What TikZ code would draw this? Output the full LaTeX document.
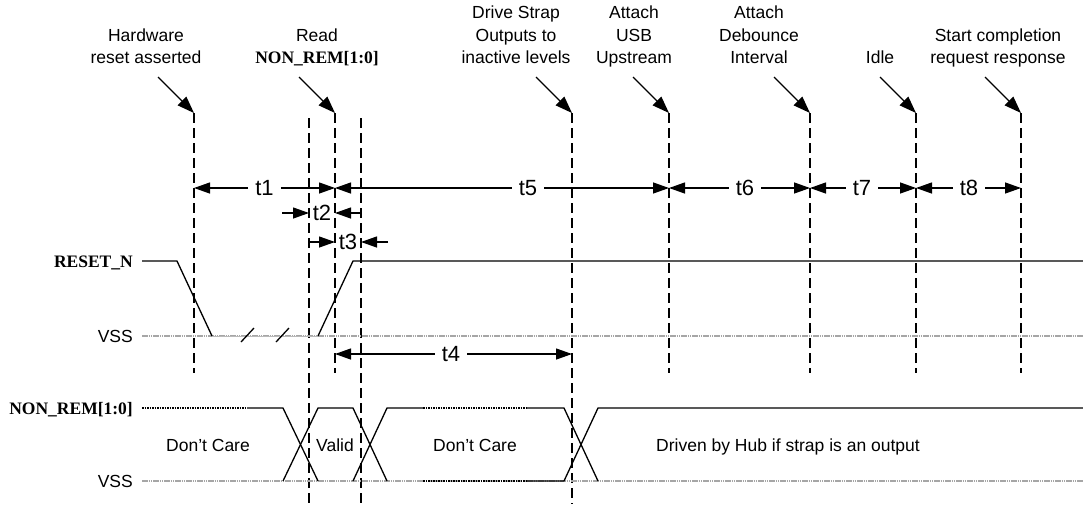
\documentclass[tikz,border=0pt]{standalone}
\usepackage{fontspec}
\setmainfont{Liberation Sans}
\newfontfamily\sigserif{Liberation Serif}
\usetikzlibrary{arrows.meta}
\begin{document}
\begin{tikzpicture}[x=1pt,y=-1pt,
  evt/.style={line width=2pt,dash pattern=on 10pt off 5pt},
  wave/.style={line width=1.3pt},
  dcare/.style={line width=1.6pt,dash pattern=on 1.5pt off 1pt},
  vss/.style={draw=gray!70,line width=1.8pt,dash pattern=on 1.5pt off 0.7pt},
  dimarr/.style={line width=1.3pt,-{Triangle[length=16pt,width=11pt]}},
  ptr/.style={line width=1.3pt,-{Triangle[length=17pt,width=12pt]}},
  tlbl/.style={font=\fontsize{22}{26}\selectfont,inner sep=7pt},
  evlbl/.style={font=\fontsize{17.5}{22.5}\selectfont,align=center,anchor=base,inner sep=0pt},
  sig/.style={font=\fontsize{17.5}{21}\sigserif\bfseries,anchor=base east,inner sep=0pt},
  rail/.style={font=\fontsize{17.5}{21}\selectfont,anchor=base east,inner sep=0pt},
  body/.style={font=\fontsize{17.5}{21}\selectfont,anchor=base,inner sep=0pt}]
\useasboundingbox (0,0) rectangle (1083,504);
\node[evlbl] (lbl1) at (146,63.5) {Hardware\\reset asserted};
\node[evlbl] (lbl3) at (317,63.5) {Read\\{\sigserif\bfseries NON\_REM[1:0]}};
\node[evlbl] (lbl5) at (516,63.5) {Drive Strap\\Outputs to\\inactive levels};
\node[evlbl] (lbl6) at (634,63.5) {Attach\\USB\\Upstream};
\node[evlbl] (lbl7) at (759,63.5) {Attach\\Debounce\\Interval};
\node[evlbl] (lbl8) at (880,63.5) {Idle};
\node[evlbl] (lbl9) at (998,63.5) {Start completion\\request response};
\coordinate (d1) at (194,113);
\coordinate (d1e) at (194,373);
\coordinate (d2) at (309,118);
\coordinate (d2e) at (309,504);
\coordinate (d3) at (335,113);
\coordinate (d3e) at (335,373);
\coordinate (d4) at (361,118);
\coordinate (d4e) at (361,504);
\coordinate (d5) at (572,113);
\coordinate (d5e) at (572,504);
\coordinate (d6) at (669,113);
\coordinate (d6e) at (669,373);
\coordinate (d7) at (810,113);
\coordinate (d7e) at (810,373);
\coordinate (d8) at (916,113);
\coordinate (d8e) at (916,373);
\coordinate (d9) at (1021,113);
\coordinate (d9e) at (1021,373);
\coordinate (p1) at (158,77);
\coordinate (p3) at (299,77);
\coordinate (p5) at (536,77);
\coordinate (p6) at (633,77);
\coordinate (p7) at (774,77);
\coordinate (p8) at (880,77);
\coordinate (p9) at (985,77);
\draw[evt] (d1) -- (d1e);
\draw[evt] (d2) -- (d2e);
\draw[evt] (d3) -- (d3e);
\draw[evt] (d4) -- (d4e);
\draw[evt] (d5) -- (d5e);
\draw[evt] (d6) -- (d6e);
\draw[evt] (d7) -- (d7e);
\draw[evt] (d8) -- (d8e);
\draw[evt] (d9) -- (d9e);
\draw[ptr] (p1) -- (d1);
\draw[ptr] (p3) -- (d3);
\draw[ptr] (p5) -- (d5);
\draw[ptr] (p6) -- (d6);
\draw[ptr] (p7) -- (d7);
\draw[ptr] (p8) -- (d8);
\draw[ptr] (p9) -- (d9);
\node[tlbl] (t1) at (264.5,188) {t1};
\node[tlbl] (t2) at (322,213) {t2};
\node[tlbl] (t3) at (348,242) {t3};
\node[tlbl] (t4) at (451,354) {t4};
\node[tlbl] (t5) at (528,188) {t5};
\node[tlbl] (t6) at (745,188) {t6};
\node[tlbl] (t7) at (862,188) {t7};
\node[tlbl] (t8) at (969,188) {t8};
\coordinate (t2in) at (282,213);
\coordinate (t3in) at (388,242);
\draw[dimarr] (t1) -- (d1 |- t1);
\draw[dimarr] (t1) -- (d3 |- t1);
\draw[dimarr] (t2in) -- (d2 |- t2);
\draw[dimarr] (d4 |- t2) -- (d3 |- t2);
\draw[dimarr] (d2 |- t3) -- (d3 |- t3);
\draw[dimarr] (t3in) -- (d4 |- t3);
\draw[dimarr] (t4) -- (d3 |- t4);
\draw[dimarr] (t4) -- (d5 |- t4);
\draw[dimarr] (t5) -- (d3 |- t5);
\draw[dimarr] (t5) -- (d6 |- t5);
\draw[dimarr] (t6) -- (d6 |- t6);
\draw[dimarr] (t6) -- (d7 |- t6);
\draw[dimarr] (t7) -- (d7 |- t7);
\draw[dimarr] (t7) -- (d8 |- t7);
\draw[dimarr] (t8) -- (d8 |- t8);
\draw[dimarr] (t8) -- (d9 |- t8);
\node[sig] (rstn) at (133,267) {RESET\_N};
\node[rail] (vss1) at (133,342.5) {VSS};
\node[sig] (nonrem) at (133,414) {NON\_REM[1:0]};
\node[rail] (vss2) at (133,487) {VSS};
\draw[vss] (142,336) -- (1083,336);
\draw[vss] (142,481) -- (1083,481);
\draw[wave] (142,261) -- (177,261) -- (212,336);
\draw[line width=1pt,gray!55] (212,336) -- (318,336);
\draw[wave] (318,336) -- (353,261) -- (1083,261);
\draw[wave] (241,342) -- (254,328);
\draw[wave] (276,342) -- (289,328);
\draw[dcare] (142,408) -- (247,408);
\draw[wave] (247,408) -- (283,408) -- (318,481);
\draw[wave] (283,481) -- (318,408) -- (353,408) -- (387,481);
\draw[wave] (353,481) -- (387,408) -- (423,408);
\draw[dcare] (423,408) -- (526,408);
\draw[dcare] (423,481) -- (526,481);
\draw[wave] (526,408) -- (564,408) -- (598,481);
\draw[wave] (526,481) -- (564,481) -- (598,408) -- (1083,408);
\node[body] (dc1) at (208,451) {Don’t Care};
\node[body] (valid) at (335,451) {Valid};
\node[body] (dc2) at (475,451) {Don’t Care};
\node[body] (drv) at (788,451) {Driven by Hub if strap is an output};
\end{tikzpicture}
\end{document}
